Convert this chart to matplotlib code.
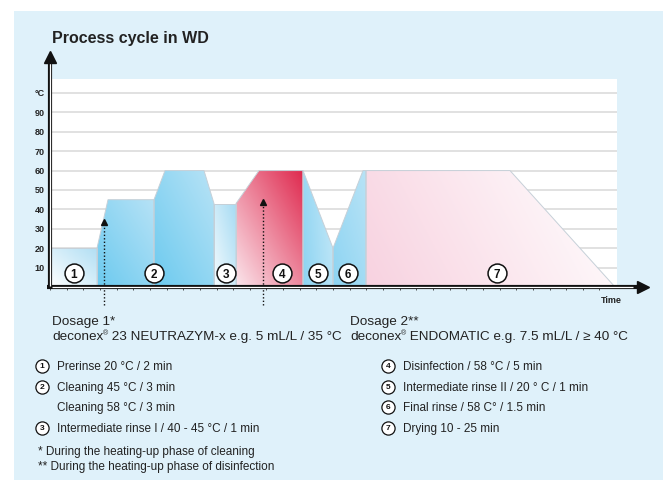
import numpy as np
import matplotlib
matplotlib.use("Agg")
import matplotlib.pyplot as plt
from matplotlib.patches import Polygon, Rectangle
from matplotlib.colors import LinearSegmentedColormap

plt.rcParams['font.family'] = ['Liberation Sans', 'DejaVu Sans']

# --------------------------------------------------------------------------------------------
# Data: time in arbitrary units (diagram is not to scale), temperature in °C
# --------------------------------------------------------------------------------------------
prerinse_t = [0, 9.4]
prerinse_T = [20, 20]
clean45_t = [9.4, 11.6, 20.8]
clean45_T = [20, 45, 45]
clean58_t = [20.8, 23.0, 30.8, 32.8]
clean58_T = [45, 60, 60, 43]
rinse1_t = [32.8, 37.2]
rinse1_T = [43, 43]
disinf_t = [37.2, 41.8, 50.6]
disinf_T = [43, 60, 60]
rinse2_t = [50.6, 56.6]
rinse2_T = [60, 20]
final_t = [56.6, 62.6, 63.2]
final_T = [20, 60, 60]
drying_t = [63.2, 92.0, 113.0]
drying_T = [60, 60, 0]

step_numbers = ['1', '2', '3', '4', '5', '6', '7']
step_label_t = [4.8, 20.8, 35.2, 46.4, 53.6, 59.6, 89.4]
step_label_T = 7.2

dosage_t = [10.8, 42.6]
dosage_tip = [33.5, 43.8]

y_ticks = [10, 20, 30, 40, 50, 60, 70, 80, 90, 100]
y_ticklabels = ['10', '20', '30', '40', '50', '60', '70', '80', '90', '°C']

legend_left = [('1', 'Prerinse 20 °C / 2 min'),
               ('2', 'Cleaning 45 °C / 3 min'),
               (None, 'Cleaning 58 °C / 3 min'),
               ('3', 'Intermediate rinse I / 40 - 45 °C / 1 min')]
legend_right = [('4', 'Disinfection / 58 °C / 5 min'),
                ('5', 'Intermediate rinse II / 20 ° C / 1 min'),
                ('6', 'Final rinse / 58 C° / 1.5 min'),
                ('7', 'Drying 10 - 25 min')]
footnotes = ['* During the heating-up phase of cleaning',
             '** During the heating-up phase of disinfection']


def grad_phase(ax, t, T, c_lo, c_hi, dx=1.0, dy=1.0):
    verts = [(t[0], 0)] + list(zip(t, T)) + [(t[-1], 0)]
    poly = Polygon(verts, closed=True, facecolor='none', edgecolor='#c6d0d8', lw=0.7, zorder=3)
    ax.add_patch(poly)
    u = np.linspace(0, 1, 120)
    X, Y = np.meshgrid(u, u)
    g = (X * dx + Y * dy) / (dx + dy)
    cmap = LinearSegmentedColormap.from_list('g', [c_lo, c_hi])
    im = ax.imshow(g, extent=(min(t), max(t), 0, max(T)), origin='lower', cmap=cmap,
                   aspect='auto', interpolation='bilinear', zorder=2)
    im.set_clip_path(poly)


W, H = 667, 480
fig = plt.figure(figsize=(W / 100, H / 100), dpi=100, facecolor='white')

# background panel in pixel coordinates
bg = fig.add_axes([0, 0, 1, 1], zorder=0)
bg.set_xlim(0, W)
bg.set_ylim(H, 0)
bg.axis('off')
bg.add_patch(Rectangle((14, 11), 649, 469, facecolor='#dff1fa', edgecolor='none'))

# chart axes: x 50..617 px, y 0 at 287 px, 100 at 93 px
ax = fig.add_axes([50 / W, (H - 287) / H, 567 / W, 208 / H], zorder=1)
ax.set_facecolor('white')
for s in ax.spines.values():
    s.set_visible(False)

ax.set_yticks(y_ticks)
ax.set_yticklabels(y_ticklabels, fontsize=6.5, fontweight='bold', color='#222222')
ax.tick_params(axis='y', length=0, pad=4)
for v in y_ticks:
    ax.axhline(v, color='#dcdcdc', lw=1.2, zorder=1)

ax.set_xticks(np.arange(0, 113, 3.33))
ax.set_xticklabels([])
ax.tick_params(axis='x', length=2.5, width=0.6, color='#333333', direction='out', pad=0)

grad_phase(ax, prerinse_t, prerinse_T, '#ffffff', '#b2dff4')
grad_phase(ax, clean45_t, clean45_T, '#6ccaef', '#b6e2f6')
grad_phase(ax, clean58_t, clean58_T, '#6ccaef', '#b8e3f6')
grad_phase(ax, rinse1_t, rinse1_T, '#f4fbfe', '#a6dbf3')
grad_phase(ax, disinf_t, disinf_T, '#fbe6ec', '#df2a4f')
grad_phase(ax, rinse2_t, rinse2_T, '#8dd4f2', '#c4e8f8', 1, 0.3)
grad_phase(ax, final_t, final_T, '#8dd4f2', '#b8e3f6')
grad_phase(ax, drying_t, drying_T, '#f8d2e0', '#ffffff', 1, 0.25)

ax.set_xlim(0, 113.4)
ax.set_ylim(0, 107.2)

# step markers
ax.scatter(step_label_t, [step_label_T] * len(step_label_t), s=185, facecolor='white',
           edgecolor='#111111', lw=1.1, zorder=5)
for n, t in zip(step_numbers, step_label_t):
    ax.text(t, step_label_T, n, ha='center', va='center_baseline', fontsize=8.5,
            fontweight='bold', color='#111111', zorder=6)

# dosage arrows
for t, tip in zip(dosage_t, dosage_tip):
    ax.plot([t, t], [-9.5, tip - 1.5], ls=(0, (1, 1.5)), color='#111111', lw=1.0,
            clip_on=False, zorder=6)
    ax.plot([t], [tip], marker='^', ms=5, color='#111111', clip_on=False, zorder=6)

# axes drawn as hollow arrows
ax.plot([0, 0], [0, 117], color='#111111', lw=3.0, clip_on=False, zorder=7, solid_capstyle='butt')
ax.plot([0, 0], [0.5, 116], color='white', lw=0.9, clip_on=False, zorder=8, solid_capstyle='butt')
ax.plot([0], [118.5], marker='^', ms=8, color='#111111', clip_on=False, zorder=9)
ax.plot([-0.6, 117.5], [0, 0], color='#111111', lw=3.0, clip_on=False, zorder=7, solid_capstyle='butt')
ax.plot([0.4, 116.5], [0, 0], color='white', lw=0.9, clip_on=False, zorder=8, solid_capstyle='butt')
ax.plot([118.6], [0], marker='>', ms=8, color='#111111', clip_on=False, zorder=9)

# texts
bg.text(52, 43, 'Process cycle in WD', fontsize=11.5, fontweight='bold', color='#222222',
        va='baseline')
bg.text(611, 303, 'Time', fontsize=6.5, fontweight='bold', color='#222222', ha='center',
        va='baseline')

bg.text(52, 325, 'Dosage 1*', fontsize=9.7, color='#222222', va='baseline')
bg.text(350, 325, 'Dosage 2**', fontsize=9.7, color='#222222', va='baseline')


def product_line(x, y, rest):
    t1 = bg.text(x, y, 'deconex', fontsize=9.7, color='#222222', va='baseline')
    t2 = bg.annotate('®', xy=(1, 0.45), xycoords=t1, fontsize=5, color='#222222',
                     ha='left', va='bottom')
    bg.annotate(rest, xy=(1, 0), xycoords=(t2, t1), fontsize=9.7, color='#222222',
                ha='left', va='bottom')


product_line(52, 340, ' 23 NEUTRAZYM-x e.g. 5 mL/L / 35 °C')
product_line(350, 340, ' ENDOMATIC e.g. 7.5 mL/L / ≥ 40 °C')

base = [370, 391, 411, 432]
for (items, cx) in ((legend_left, 42), (legend_right, 388)):
    for (num, label), yb in zip(items, base):
        if num is not None:
            bg.scatter([cx], [yb - 4.5], s=90, facecolor='white', edgecolor='#111111', lw=0.9,
                       zorder=3)
            bg.text(cx, yb - 4.5, num, ha='center', va='center_baseline', fontsize=6,
                    fontweight='bold', color='#111111', zorder=4)
        bg.text(cx + 15, yb, label, fontsize=8.5, color='#222222', va='baseline')

bg.text(38, 455, footnotes[0], fontsize=8.5, color='#222222', va='baseline')
bg.text(38, 470, footnotes[1], fontsize=8.5, color='#222222', va='baseline')

fig.savefig('out.png', dpi=100, facecolor='white')
